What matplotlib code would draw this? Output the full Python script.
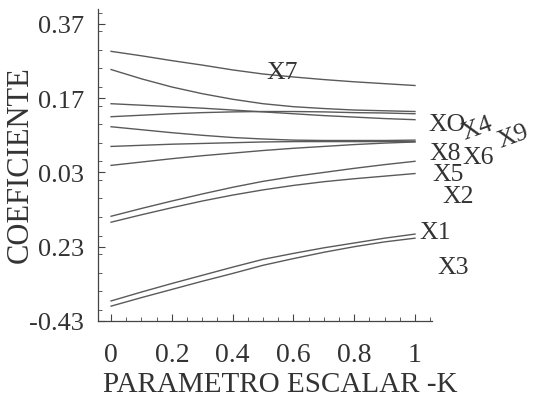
import matplotlib.pyplot as plt
from matplotlib.ticker import MultipleLocator

# ridge trace values
k = [0, 0.1, 0.2, 0.3, 0.4, 0.5, 0.6, 0.7, 0.8, 0.9, 1.0]

b_x7 = [0.296, 0.284, 0.271, 0.259, 0.246, 0.235, 0.227, 0.220, 0.214, 0.209, 0.204]
b_a = [0.247, 0.222, 0.200, 0.182, 0.167, 0.155, 0.147, 0.142, 0.138, 0.136, 0.134]
b_b = [0.155, 0.151, 0.147, 0.143, 0.138, 0.133, 0.128, 0.123, 0.119, 0.115, 0.112]
b_c = [0.120, 0.124, 0.128, 0.131, 0.133, 0.134, 0.134, 0.133, 0.131, 0.130, 0.128]
b_d = [0.093, 0.085, 0.077, 0.070, 0.064, 0.060, 0.057, 0.056, 0.056, 0.056, 0.057]
b_e = [0.040, 0.043, 0.046, 0.048, 0.050, 0.052, 0.053, 0.053, 0.053, 0.053, 0.053]
b_f = [-0.011, -0.002, 0.007, 0.015, 0.022, 0.029, 0.035, 0.040, 0.045, 0.049, 0.052]
b_g = [-0.148, -0.127, -0.107, -0.088, -0.070, -0.054, -0.041, -0.030, -0.019, -0.009, 0.000]
b_h = [-0.164, -0.144, -0.125, -0.107, -0.091, -0.077, -0.065, -0.055, -0.047, -0.040, -0.033]
b_i = [-0.376, -0.352, -0.329, -0.307, -0.285, -0.264, -0.248, -0.233, -0.220, -0.207, -0.196]
b_j = [-0.390, -0.367, -0.345, -0.323, -0.302, -0.280, -0.262, -0.245, -0.230, -0.217, -0.207]

series = [b_x7, b_a, b_b, b_c, b_d, b_e, b_f, b_g, b_h, b_i, b_j]

labels = ['X7', 'XO', 'X4', 'X9', 'X8', 'X6', 'X5', 'X2', 'X1', 'X3']

yticks = [0.37, 0.17, -0.03, -0.23, -0.43]
yticklabels = ['0.37', '0.17', '0.03', '0.23', '-0.43']
xticks = [0, 0.2, 0.4, 0.6, 0.8, 1]
xticklabels = ['0', '0.2', '0.4', '0.6', '0.8', '1']

# where the labels sit (data coords) and their tilt
label_pos = [(0.5625, 0.241), (1.105, 0.101), (1.204, 0.090), (1.322, 0.068),
             (1.099, 0.022), (1.207, 0.012), (1.109, -0.033), (1.141, -0.093),
             (1.066, -0.190), (1.125, -0.285)]
label_rot = [0, 0, 20, 20, 0, 0, 0, 0, 0, 0]

plt.rcParams['font.family'] = 'Liberation Serif'

fig = plt.figure(figsize=(5.33, 4.02), dpi=100)
ax = fig.add_axes([98 / 533, 80 / 402, 334 / 533, 312 / 402])

for s in series:
    ax.plot(k, s, color='#5a5a5a', lw=1.0)

for name, (x, y), r in zip(labels, label_pos, label_rot):
    ax.text(x, y, name, fontsize=18.5, color='#333333', ha='center', va='center',
            rotation=r, clip_on=False)

ax.set_xlim(-0.043, 1.056)
ax.set_ylim(-0.43, 0.41)
ax.set_xticks(xticks)
ax.set_xticklabels(xticklabels)
ax.set_yticks(yticks)
ax.set_yticklabels(yticklabels)
ax.xaxis.set_minor_locator(MultipleLocator(0.05))
ax.yaxis.set_minor_locator(MultipleLocator(0.05))
ax.tick_params(which='major', direction='in', length=5, width=0.8, color='#444444',
               labelcolor='#333333')
ax.tick_params(axis='x', which='major', pad=15, labelsize=20)
ax.tick_params(axis='y', which='major', pad=10, labelsize=19)
ax.tick_params(which='minor', direction='in', length=3, width=0.6, color='#444444')

for side in ['top', 'right']:
    ax.spines[side].set_visible(False)
for side in ['left', 'bottom']:
    ax.spines[side].set_color('#444444')
    ax.spines[side].set_linewidth(0.9)

ax.set_xlabel('PARAMETRO ESCALAR -K', fontsize=21, color='#333333')
ax.xaxis.set_label_coords(0.545, -0.16)
ax.set_ylabel('COEFICIENTE', fontsize=22, color='#333333')
ax.yaxis.set_label_coords(-0.189, 0.503)

fig.savefig('out.png', dpi=100)
